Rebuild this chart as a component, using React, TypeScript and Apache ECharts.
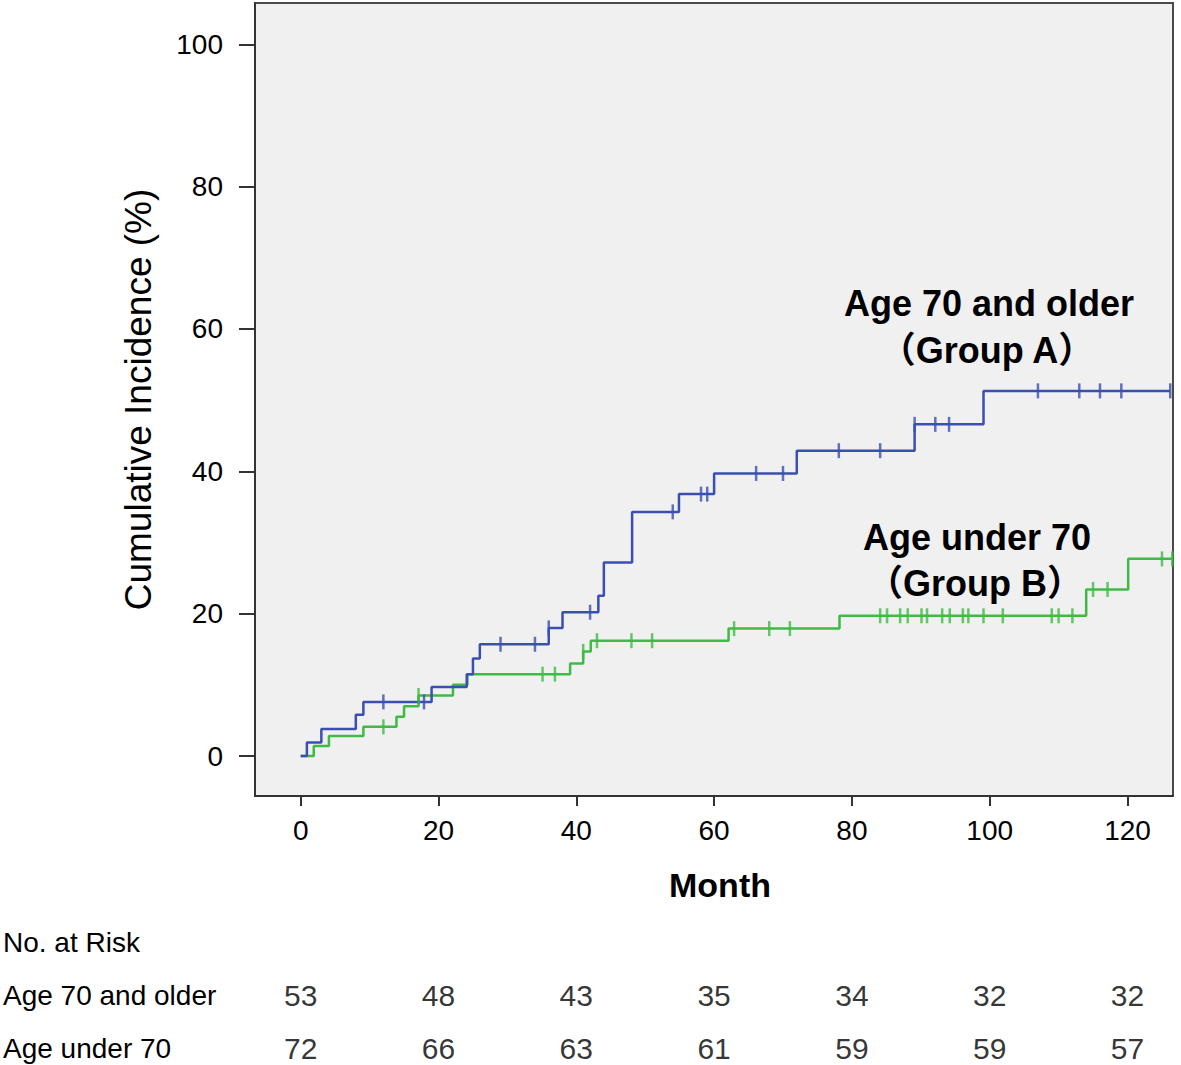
import React, { useEffect, useRef } from "react";
import * as echarts from "echarts";

// Group A (age 70 and older): step times (month) and cumulative incidence (%)
const blueT = [0, 0.9, 3.0, 8.0, 9.1, 19.0, 24.1, 25.0, 26.0, 36.0, 38.0, 43.2, 44.0, 48.1, 54.9, 60.0, 72.0, 89.1, 99.1, 126.2];
const blueY = [0, 1.9, 3.8, 5.8, 7.6, 9.7, 11.5, 13.7, 15.7, 18.0, 20.2, 22.5, 27.2, 34.3, 36.8, 39.7, 42.9, 46.6, 51.3, 51.3];
const blueCensor = [12.0, 17.9, 29.0, 34.0, 36.0, 42.0, 54.0, 58.1, 59.0, 66.1, 70.0, 78.1, 84.1, 89.1, 92.1, 94.1, 107.0, 113.0, 116.0, 119.1, 126.2];

// Group B (age under 70)
const greenT = [0, 1.9, 4.1, 9.1, 13.9, 15.0, 17.1, 22.1, 24.2, 39.1, 41.0, 42.1, 62.1, 78.2, 114.0, 120.1, 126.6];
const greenY = [0, 1.4, 2.8, 4.1, 5.5, 7.0, 8.5, 10.0, 11.5, 13.0, 14.7, 16.2, 17.9, 19.7, 23.4, 27.7, 27.7];
const greenCensor = [12.0, 17.1, 35.1, 36.9, 41.0, 43.0, 48.0, 51.0, 62.9, 68.0, 71.0, 84.1, 85.1, 87.0, 88.1, 90.1, 90.9, 93.1, 94.2, 96.1, 96.9, 99.1, 101.9, 109.0, 110.0, 112.0, 115.0, 117.1, 125.0, 126.5];

const xTicks = [0, 20, 40, 60, 80, 100, 120];
const yTicks = [0, 20, 40, 60, 80, 100];

const riskMonths = [0, 20, 40, 60, 80, 100, 120];
const riskA = [53, 48, 43, 35, 34, 32, 32];
const riskB = [72, 66, 63, 61, 59, 59, 57];

const BLUE = "#3b4fb3";
const GREEN = "#3fba45";
const FONT = "'Liberation Sans', 'Noto Sans CJK JP', sans-serif";

function stepAt(ts: number[], ys: number[], t: number): number {
  let v = ys[0];
  for (let i = 0; i < ts.length; i++) {
    if (ts[i] <= t + 1e-9) v = ys[i];
  }
  return v;
}

export default function App() {
  const ref = useRef<HTMLDivElement>(null);
  useEffect(() => {
    if (!ref.current) return;
    const chart = echarts.init(ref.current, undefined, { renderer: "svg" });
    const xMin = -6.63;
    const xMax = 126.6;
    const tickMark = { symbol: "rect", symbolSize: [2.5, 15] };
    const riskLabel = {
      show: true,
      position: "inside",
      formatter: (p: any) => String(p.value[2]),
      fontSize: 30,
      color: "#000",
      fontFamily: FONT,
    };
    const option: any = {
      animation: false,
      backgroundColor: "#ffffff",
      grid: [
        {
          left: 255,
          top: 3,
          width: 918,
          height: 793,
          show: true,
          backgroundColor: "#f0f0f0",
          borderColor: "#4a4a4a",
          borderWidth: 2,
        },
        { left: 255, top: 942, width: 918, height: 106, show: false },
      ],
      xAxis: [
        {
          type: "value",
          gridIndex: 0,
          min: xMin,
          max: xMax,
          splitLine: { show: false },
          axisLine: { show: true, onZero: false, lineStyle: { color: "#333", width: 2 } },
          axisTick: { show: true, length: 10, customValues: xTicks, lineStyle: { color: "#333", width: 2 } },
          axisLabel: { customValues: xTicks, color: "#000", fontSize: 28, fontFamily: FONT, margin: 20 },
          name: "Month",
          nameLocation: "middle",
          nameGap: 72,
          nameTextStyle: { fontSize: 34, fontWeight: "bold", color: "#000", fontFamily: FONT, padding: [0, 0, 0, 12] },
        },
        { type: "value", gridIndex: 1, min: xMin, max: xMax, show: false },
      ],
      yAxis: [
        {
          type: "value",
          gridIndex: 0,
          min: -5.62,
          max: 105.8,
          splitLine: { show: false },
          axisLine: { show: true, onZero: false, lineStyle: { color: "#333", width: 2 } },
          axisTick: { show: true, length: 16, customValues: yTicks, lineStyle: { color: "#333", width: 2 } },
          axisLabel: { customValues: yTicks, color: "#000", fontSize: 28, fontFamily: FONT, margin: 32 },
          name: "Cumulative Incidence (%)",
          nameLocation: "middle",
          nameGap: 98,
          nameTextStyle: { fontSize: 37, color: "#000", fontFamily: FONT },
        },
        { type: "value", gridIndex: 1, min: 0, max: 2, inverse: true, show: false },
      ],
      series: [
        {
          type: "line",
          step: "end",
          xAxisIndex: 0,
          yAxisIndex: 0,
          data: blueT.map((t, i) => [t, blueY[i]]),
          showSymbol: false,
          symbol: "none",
          lineStyle: { color: BLUE, width: 2.5 },
          z: 3,
        },
        {
          type: "line",
          step: "end",
          xAxisIndex: 0,
          yAxisIndex: 0,
          data: greenT.map((t, i) => [t, greenY[i]]),
          showSymbol: false,
          symbol: "none",
          lineStyle: { color: GREEN, width: 2.5 },
          z: 2,
        },
        {
          type: "scatter",
          xAxisIndex: 0,
          yAxisIndex: 0,
          ...tickMark,
          itemStyle: { color: BLUE },
          data: blueCensor.map((t) => [t, stepAt(blueT, blueY, t)]),
          z: 4,
        },
        {
          type: "scatter",
          xAxisIndex: 0,
          yAxisIndex: 0,
          ...tickMark,
          itemStyle: { color: GREEN },
          data: greenCensor.map((t) => [t, stepAt(greenT, greenY, t)]),
          z: 4,
        },
        {
          type: "scatter",
          xAxisIndex: 1,
          yAxisIndex: 1,
          symbolSize: 1,
          itemStyle: { color: "rgba(0,0,0,0)" },
          data: riskMonths.map((m, i) => [m, 1, riskA[i]]),
          label: riskLabel,
        },
        {
          type: "scatter",
          xAxisIndex: 1,
          yAxisIndex: 1,
          symbolSize: 1,
          itemStyle: { color: "rgba(0,0,0,0)" },
          data: riskMonths.map((m, i) => [m, 2, riskB[i]]),
          label: riskLabel,
        },
      ],
      graphic: [
        { type: "text", x: 989, y: 303, style: { text: "Age 70 and older", fontSize: 36, fontWeight: "bold", fill: "#000", fontFamily: FONT, align: "center", verticalAlign: "middle" } },
        { type: "text", x: 987, y: 350, style: { text: "（Group A）", fontSize: 36, fontWeight: "bold", fill: "#000", fontFamily: FONT, align: "center", verticalAlign: "middle" } },
        { type: "text", x: 977, y: 537, style: { text: "Age under 70", fontSize: 36, fontWeight: "bold", fill: "#000", fontFamily: FONT, align: "center", verticalAlign: "middle" } },
        { type: "text", x: 975, y: 583, style: { text: "（Group B）", fontSize: 36, fontWeight: "bold", fill: "#000", fontFamily: FONT, align: "center", verticalAlign: "middle" } },
        { type: "text", x: 3, y: 942, style: { text: "No. at Risk", fontSize: 28, fill: "#000", fontFamily: FONT, verticalAlign: "middle" } },
        { type: "text", x: 3, y: 995, style: { text: "Age 70 and older", fontSize: 28, fill: "#000", fontFamily: FONT, verticalAlign: "middle" } },
        { type: "text", x: 3, y: 1048, style: { text: "Age under 70", fontSize: 28, fill: "#000", fontFamily: FONT, verticalAlign: "middle" } },
      ],
    };
    chart.setOption(option);
    return () => chart.dispose();
  }, []);
  return (
    <div
      ref={ref}
      style={{ position: "fixed", left: 0, top: 0, width: 1181, height: 1065, background: "#fff" }}
    />
  );
}
